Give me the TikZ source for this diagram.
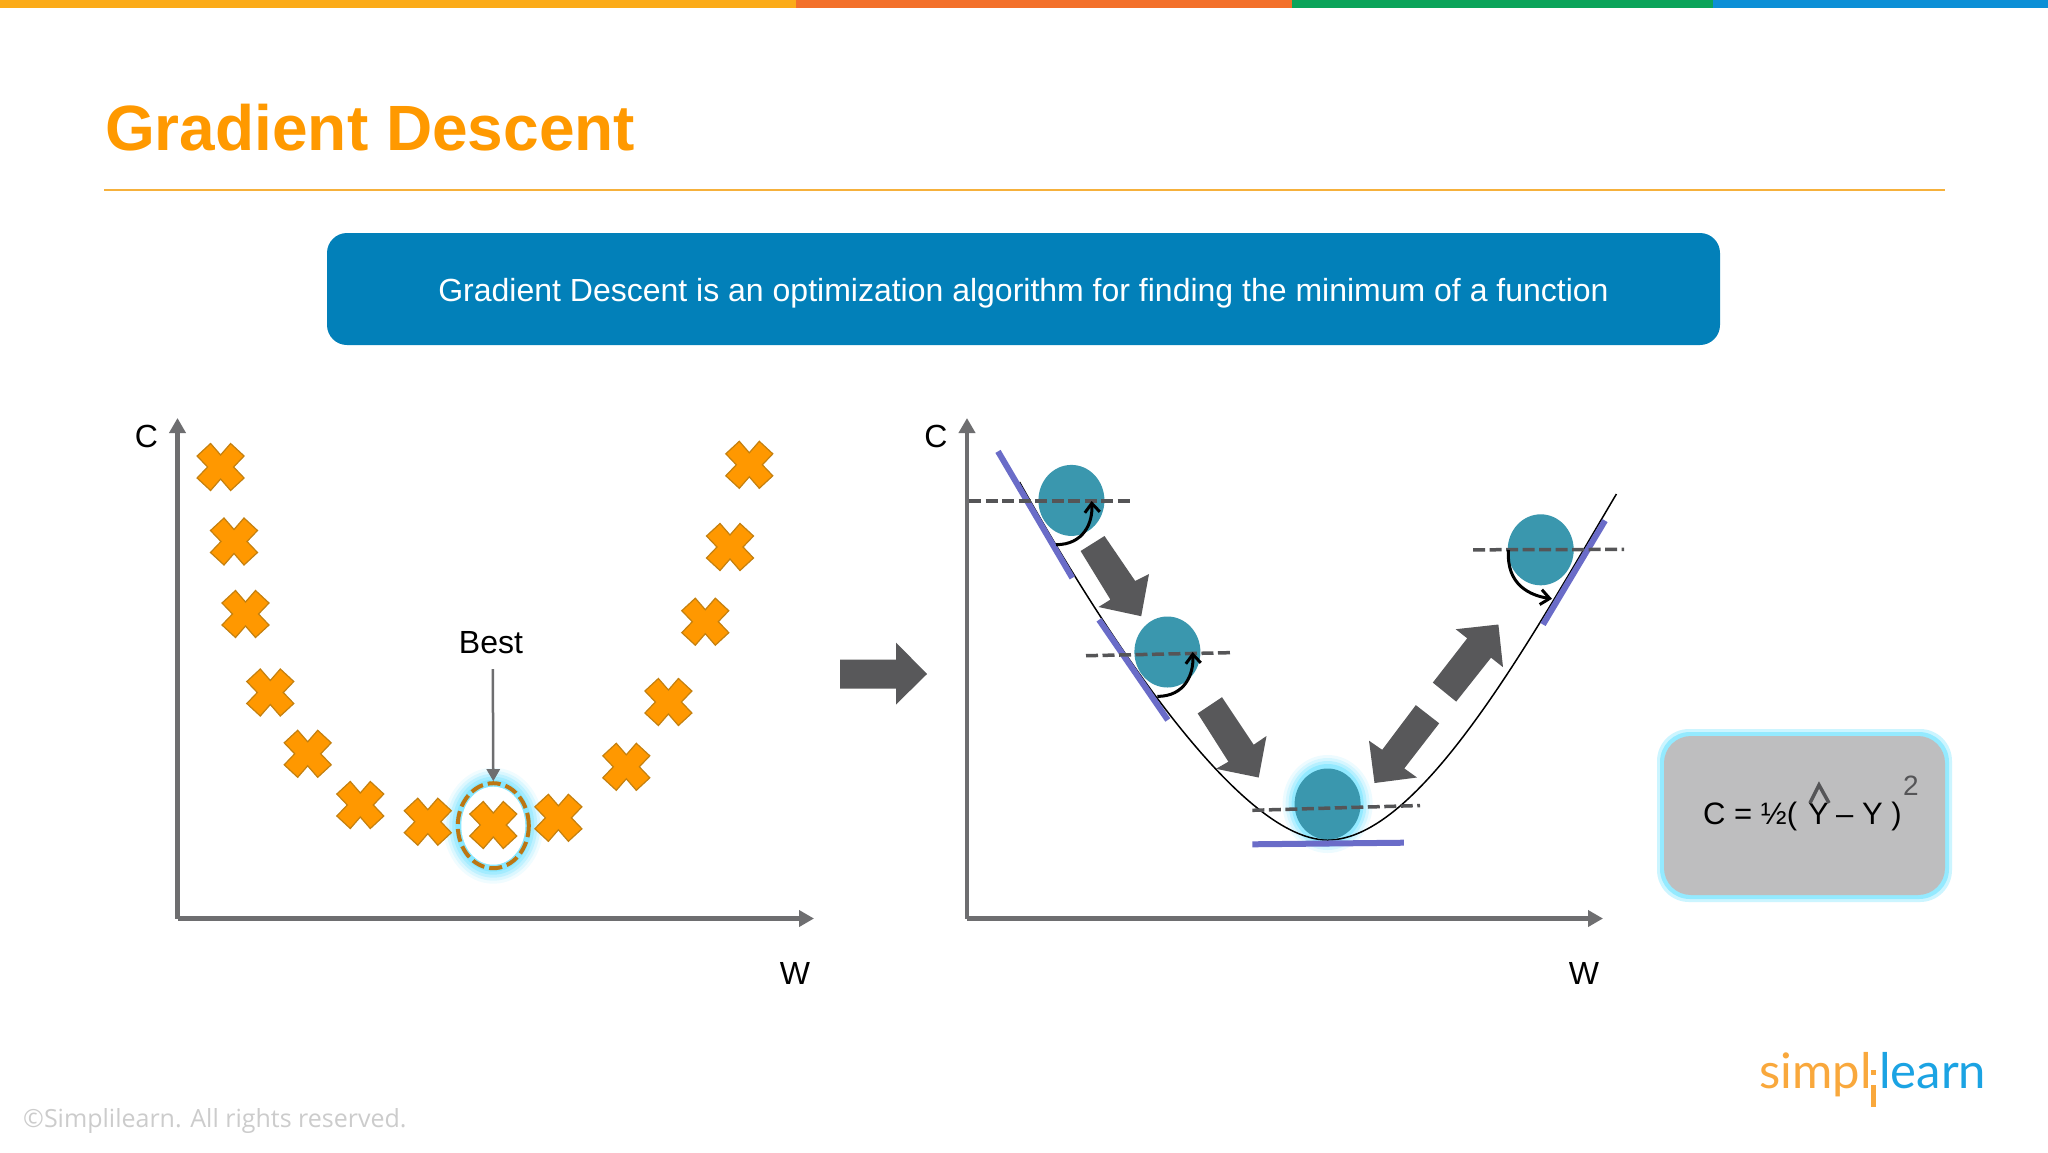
\documentclass[tikz,border=0pt]{standalone}
\usepackage{fontspec}
\setmainfont{Liberation Sans}
\newfontfamily\opensans{Open Sans}
\newfontfamily\lato{Lato}
\usetikzlibrary{arrows.meta,shapes.geometric}
\definecolor{barA}{HTML}{FBAB18}
\definecolor{barB}{HTML}{F3702A}
\definecolor{barC}{HTML}{0BA45A}
\definecolor{barD}{HTML}{0C8FD6}
\definecolor{titleor}{HTML}{FF9900}
\definecolor{rulecol}{HTML}{F6B13C}
\definecolor{banner}{HTML}{0280B9}
\definecolor{axisgray}{HTML}{6E6E70}
\definecolor{xfill}{HTML}{FF9800}
\definecolor{xedge}{HTML}{C4800F}
\definecolor{ringc}{HTML}{BC7612}
\definecolor{glowc}{HTML}{6FE3FF}
\definecolor{ballc}{HTML}{3A97AE}
\definecolor{tangent}{HTML}{6A6CC8}
\definecolor{dashc}{HTML}{555557}
\definecolor{blockc}{HTML}{58585A}
\definecolor{boxc}{HTML}{BEBEBF}
\definecolor{logoor}{HTML}{F9A83C}
\definecolor{logobl}{HTML}{1BA3E3}
\newcommand{\fs}[1]{\fontsize{#1}{#1}\selectfont}
\newcommand{\xmark}[1]{\filldraw[xmarkstyle,shift={#1}] (-10,-23.5)--(0,-12)--(10,-23.5)--(23.5,-11)--(13,0)--(23.5,11)--(10,23.5)--(0,12)--(-10,23.5)--(-23.5,11)--(-13,0)--(-23.5,-11)--cycle;}
\tikzset{
  xmarkstyle/.style={fill=xfill,draw=xedge,line width=1.2pt,line join=miter},
  axisline/.style={draw=axisgray,line width=4.5pt,-{Triangle[length=15pt,width=16pt]}},
  lab/.style={inner sep=0pt,font=\fs{32},anchor=center},
  ball/.style={ellipse,fill=ballc,minimum width=66pt,minimum height=71pt,inner sep=0pt},
  tline/.style={draw=tangent,line width=6pt},
  dashline/.style={draw=dashc,line width=3.5pt,dash pattern=on 12pt off 4.5pt},
  turn/.style={draw=black,line width=3pt,-{Straight Barb[length=9pt,width=15pt,line width=3pt]}},
  block/.style={fill=blockc},
}
\begin{document}
\begin{tikzpicture}[x=1pt,y=-1pt]
\useasboundingbox (0,0) rectangle (2048,1152);
\fill[white] (0,0) rectangle (2048,1152);
% top bars
\fill[barA] (0,0) rectangle (796,8);
\fill[barB] (796,0) rectangle (1292,8);
\fill[barC] (1292,0) rectangle (1713,8);
\fill[barD] (1713,0) rectangle (2048,8);
% title
\node[inner sep=0pt,anchor=base west,text=titleor,font=\bfseries\fs{64}] (title) at (105,150) {Gradient Descent};
\coordinate (ruleL) at (104,190);
\coordinate (ruleR) at (1945,190);
\draw[rulecol,line width=2pt] (ruleL) -- (ruleR);
% banner
\node[fill=banner,rounded corners=20pt,minimum width=1393pt,minimum height=112pt,inner sep=0pt] (bannerbox) at (1023.5,289) {};
\node[inner sep=0pt,text=white,font=\fs{32}] (bannertext) at (1023.5,293) {Gradient Descent is an optimization algorithm for finding the minimum of a function};
% left plot
\coordinate (lo) at (177.5,918.5);
\coordinate (ly) at (177.5,418);
\coordinate (lx) at (814,918.5);
\draw[axisline] (lo) -- (ly);
\draw[axisline] (lo) -- (lx);
\node[lab] (lc) at (146.5,436) {C};
\node[lab] (lw) at (795,973) {W};
% glow of the best mark
\foreach \r/\o in {12/.10,9/.16,6/.25,3/.35,0/.5}{
  \fill[glowc,opacity=\o] (493.3,825.7) ellipse ({38+\r} and {46+\r});
}
\fill[white] (493.3,825.7) ellipse (32 and 39);
\foreach \p in {(220.6,467),(234,541.5),(245.5,614),(270.3,692.5),(307.7,753.8),(360.3,805),(427.8,821.7),(493.3,825),(558.4,817.8),(626.3,766.8),(668.4,702),(705.3,621.7),(730,547),(749.3,464.8)}{
  \xmark{\p}
}
\node[ellipse,draw=ringc,line width=4pt,dash pattern=on 13pt off 5pt,minimum width=71pt,minimum height=85pt,inner sep=0pt] (ring) at (493.3,825.7) {};
\node[lab] (best) at (491,642.5) {Best};
\coordinate (bestfrom) at (492.8,669);
\draw[draw=axisgray,line width=2.5pt,-{Triangle[length=12pt,width=13pt]}] (bestfrom) -- (ring.north);
% middle arrow
\fill[block] (840,659.5)--(896,659.5)--(896,642.5)--(927,674)--(896,704.5)--(896,688.5)--(840,688.5)--cycle;
% right plot
\coordinate (ro) at (967,918.5);
\coordinate (ry) at (967,418);
\coordinate (rx) at (1603,918.5);
\draw[axisline] (ro) -- (ry);
\draw[axisline] (ro) -- (rx);
\node[lab] (rc) at (936,436) {C};
\node[lab] (rw) at (1584,973) {W};
% glow of lowest ball
\foreach \r/\o in {9/.12,6/.18,3/.3,0/.5}{
  \fill[glowc,opacity=\o] (1327.6,804) ellipse ({36+\r} and {40+\r});
}
% curve
\coordinate (cstart) at (1019.5,482);
\coordinate (cmin) at (1327.6,840);
\coordinate (cend) at (1616.4,494);
\draw[black,line width=1.5pt] (cstart) .. controls (1080,590) and (1230,840) .. (cmin) .. controls (1420,840) and (1530,640) .. (cend);
% balls
\node[ball] (b1) at (1071.4,500.4) {};
\node[ball] (b2) at (1167.4,652) {};
\node[ball] (b3) at (1327.6,804) {};
\node[ball] (b4) at (1540.7,549.8) {};
% tangents
\draw[tline] (998,451.4)--(1072.3,577.9);
\draw[tline] (1099,619.8)--(1167.8,720);
\draw[tline] (1252.3,844.3)--(1403.8,842.7);
\draw[tline] (1543,624.5)--(1605,520.6);
% level lines
\draw[dashline] (969,500.8)--(1131,500.8);
\draw[dashline] (1086,655.7)--(1233,652.6);
\draw[dashline] (1252.3,810.3)--(1420,805.5);
\draw[dashline] (1473,549.8)--(1624,549.4);
% turning arrows
\draw[turn] (1056,544.7) .. controls (1083.8,544.7) and (1093,522.5) .. (1091.6,501);
\draw[turn] (1157.3,696.4) .. controls (1185,696.4) and (1194,674) .. (1192.6,652);
\draw[turn] (1508.5,550) .. controls (1506,585.8) and (1531.4,595.7) .. (1552,598.8);
% block arrows
\fill[block] (1080.6,551)--(1104.5,536)--(1135.2,581)--(1149,574)--(1141.2,616.2)--(1098.5,607)--(1110.4,599.6)--cycle;
\fill[block] (1197.7,713.4)--(1222,697.2)--(1253.7,744.7)--(1266.5,736)--(1258.7,777.5)--(1216,768.8)--(1228.4,761.7)--cycle;
\fill[block] (1415.8,705.1)--(1439.2,723.3)--(1404.3,768.4)--(1417,777.5)--(1374.5,783)--(1369,740.7)--(1382.2,749.8)--cycle;
\fill[block] (1432.8,682.6)--(1456.2,701.6)--(1491,657.7)--(1503,667.2)--(1498.4,624.5)--(1455.7,629.2)--(1467.2,638.3)--cycle;
% formula box
\fill[glowc,opacity=.35,rounded corners=32pt] (1657,729) rectangle (1952,902);
\fill[glowc,opacity=.6,rounded corners=30pt] (1660,732) rectangle (1949,899);
\node[fill=boxc,rounded corners=27pt,minimum width=281pt,minimum height=159pt,inner sep=0pt] (fbox) at (1804.5,815.5) {};
\node[inner sep=0pt,anchor=base west,font=\fs{31}] (f1) at (1703,824) {C = ½(};
\node[inner sep=0pt,anchor=base west,font=\fs{31}] (f2) at (1808,824) {Y};
\node[inner sep=0pt,anchor=base west,font=\fs{31}] (f3) at (1836,824) {– Y )};
\node[inner sep=0pt,anchor=base west,font=\fs{28},text=dashc] (f4) at (1903,795) {2};
\draw[dashc,line width=3.5pt,line join=miter] (1810,803) -- (1819,785) -- (1829,803);
% copyright
\node[inner sep=0pt,anchor=base west,font=\opensans\fs{25},text=black!20] (copy) at (23,1127) {©Simplilearn. All rights reserved.};
% logo
\node[inner sep=0pt,anchor=base west,font=\lato\fs{49},text=logoor] (logoA) at (1759,1088) {simpl};
\node[inner sep=0pt,anchor=base west,font=\lato\fs{49},text=logobl] (logoB) at (1879,1088) {learn};
\fill[logoor] (1871,1085) rectangle (1876,1107);
\fill[logoor] (1871,1070) rectangle (1876,1075);
\end{tikzpicture}
\end{document}
